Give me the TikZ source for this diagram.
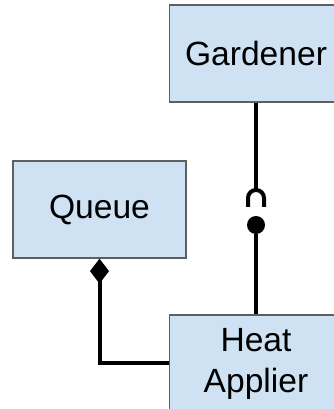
\documentclass[tikz,border=0pt]{standalone}
\usepackage{fontspec}
\setmainfont{Liberation Sans}
\usepackage{tikz}
\usetikzlibrary{arrows.meta}
\definecolor{boxfill}{RGB}{207,226,243}
\definecolor{boxline}{RGB}{95,95,95}

\begin{document}
\begin{tikzpicture}[x=1pt, y=1pt, font={\fontsize{33.6}{41}\selectfont},
	classbox/.style={draw=boxline, line width=1.3pt, fill=boxfill, minimum width=173pt, minimum height=97pt, align=center},
	link/.style={line width=4pt}]
	\useasboundingbox (0,0) rectangle (334,409);
	\clip (0,0) rectangle (334,409);
	\node[classbox] (gardener) at (256,355.5) {Gardener};
	\node[classbox] (queue) at (99.5,199.5) {Queue};
	\node[classbox] (heat) at (256,45.5) {Heat\\Applier};
	\coordinate (socket) at (256,219);
	\node[fill=black, circle, inner sep=0pt, minimum size=18pt] (ball) at (256,184) {};
	\draw[link] (gardener) -- (socket);
	\draw[link] (socket) ++(-8,-17) -- ++(0,9) arc[start angle=180, end angle=0, radius=8] -- ++(0,-9);
	\draw[link] (ball) -- (heat);
	\draw[link, {Diamond[length=25pt, width=19pt]}-] (queue) |- (heat);
\end{tikzpicture}
\end{document}
